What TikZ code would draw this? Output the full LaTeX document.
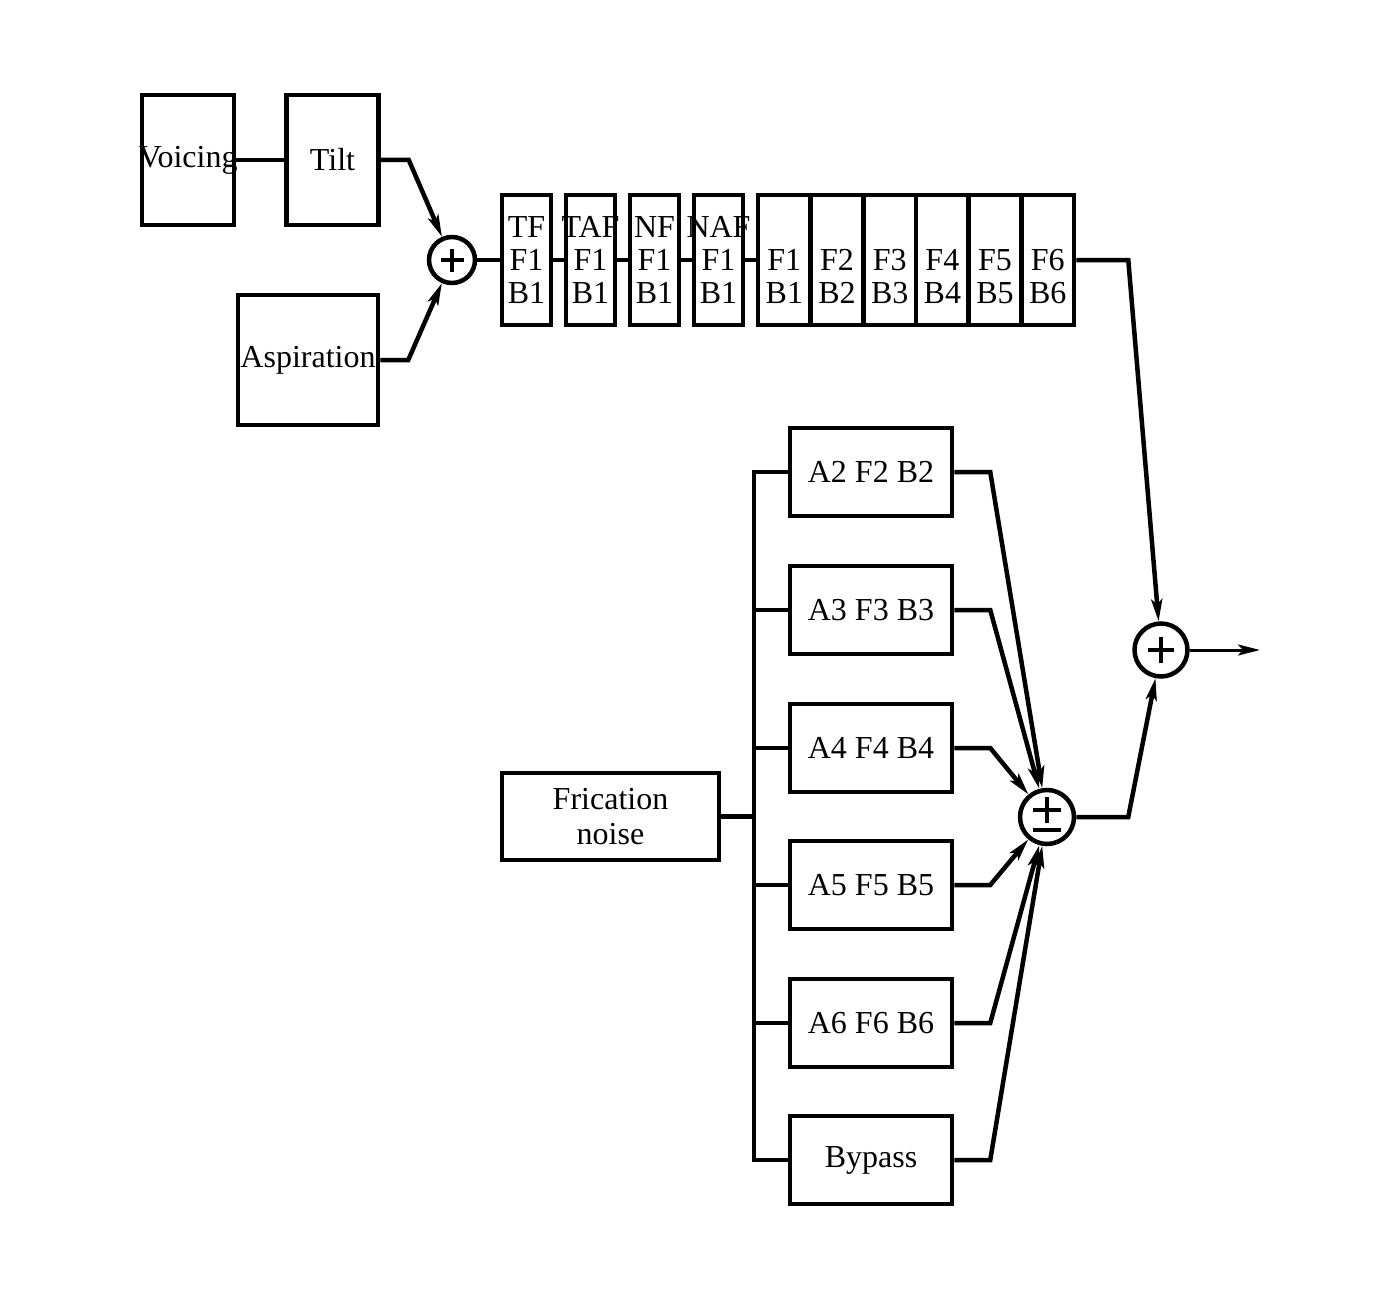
\documentclass[tikz,border=0pt]{standalone}
\usepackage{fontspec}
\setmainfont{Liberation Serif}
\usepackage{tikz}
\usetikzlibrary{arrows.meta, positioning}
\newcommand{\wide}[1]{\makebox[0pt]{#1}}

\begin{document}
\begin{tikzpicture}[
    x=1pt, y=-1pt, line width=4.5pt,
    font=\fontsize{32}{33}\selectfont,
    box/.style={rectangle, draw, inner sep=0pt, align=center},
    src/.style={box, minimum width=92pt, minimum height=130pt},
    cell/.style={box, minimum width=#1, minimum height=130pt},
    fbox/.style={box, minimum width=162pt, minimum height=88pt},
    sum/.style={circle, draw, inner sep=0pt, minimum size=#1,
        path picture={\draw[line width=4pt] (path picture bounding box.center)
            +({-0.25*#1},0) -- +({0.25*#1},0) +(0,{-0.25*#1}) -- +(0,{0.25*#1});}},
    pmsum/.style={circle, draw, inner sep=0pt, minimum size=54pt,
        path picture={\draw[line width=4pt] (path picture bounding box.center)
            +(-14pt,7pt) -- +(14pt,7pt) +(0,-6pt) -- +(0,20pt)
            +(-14pt,-13pt) -- +(14pt,-13pt);}},
    arrow/.style={-{Stealth[length=22pt, width=11pt, inset=5pt]}}
]
    \useasboundingbox (0,0) rectangle (1400,1300);

    % Sources
    \node[src] (voice) at (188,160) {\wide{Voicing}};
    \node[src, right=48pt of voice] (tilt) {Tilt};
    \node[src, minimum width=140pt] (asp) at (308,360) {\wide{Aspiration}};
    \node[sum=46pt] (s1) at (452,260) {};

    % Cascade filters
    \foreach \lab [count=\i] in {TF,TAF,NF,NAF}
        \node[cell=49pt] (p\i) at ({462.5+64*\i},260) {\wide{\lab}\\F1\\B1};
    \foreach \i in {1,...,6}
        \node[cell=52.67pt] (f\i) at ({758+52.67*(\i-0.5)},260) {\vphantom{T}\\F\i\\B\i};

    % Parallel branch
    \node[box, minimum width=217pt, minimum height=87pt, font=\fontsize{32}{35}\selectfont]
        (fric) at (610.5,816.5) {Frication\\noise};
    \foreach \k/\y in {2/472,3/610,4/748,5/885,6/1023}
        \node[fbox] (a\k) at (871,\y) {A\k{} F\k{} B\k};
    \node[fbox] (bp) at (871,1160) {Bypass};
    \node[pmsum] (pm) at (1047,817) {};
    \node[sum=53pt] (s2) at (1161,650) {};
    \coordinate (out) at (1260,650);

    % Arrows
    \draw (voice) -- (tilt);
    \draw[arrow] (tilt.east) -- ++(28,0) -- (s1);
    \draw[arrow] (asp.east) -- ++(28,0) -- (s1);
    \draw (s1) -- (p1);
    \draw (p1) -- (p2);
    \draw (p2) -- (p3);
    \draw (p3) -- (p4);
    \draw (p4) -- (f1);
    \draw[arrow] (f6.east) -- ++(52,0) -- (s2);

    % Bus
    \draw (a2.west) -- ++(-34,0) coordinate (bus) |- (bp.west);
    \draw (fric.east) -- (fric.east -| bus);
    \foreach \k in {3,...,6}
        \draw (a\k.west) -- (a\k.west -| bus);
    \foreach \k in {2,...,6}
        \draw[arrow] (a\k.east) -- ++(36,0) -- (pm);
    \draw[arrow] (bp.east) -- ++(36,0) -- (pm);

    % Output
    \draw[arrow] (pm.east) -- ++(52,0) -- (s2);
    \draw[arrow, line width=3pt] (s2) -- (out);
\end{tikzpicture}
\end{document}
